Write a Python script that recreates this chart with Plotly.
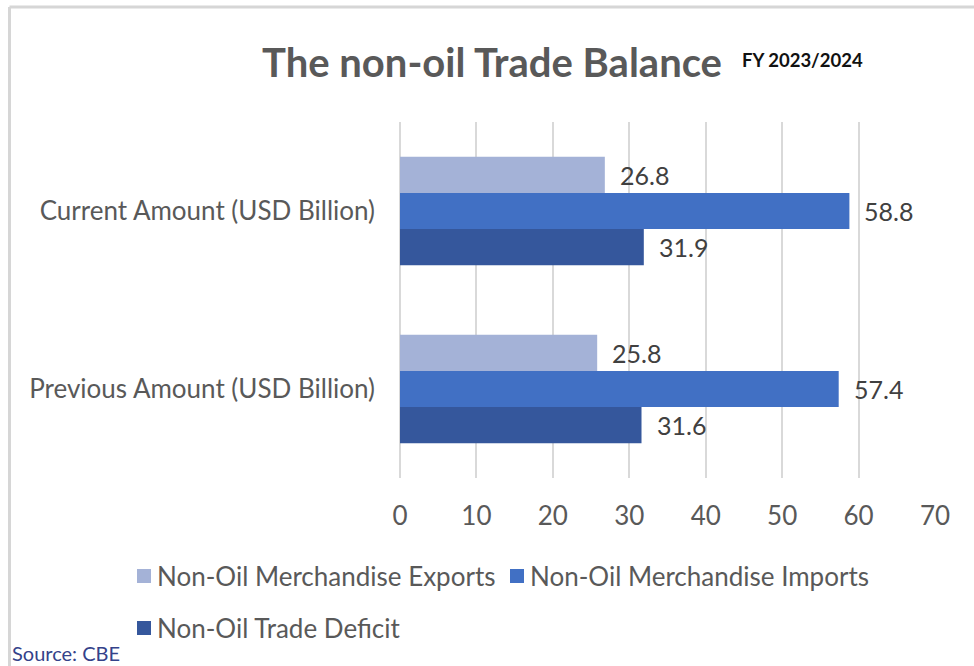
import plotly.graph_objects as go

# Data (USD billion)
categories = ["Current Amount (USD Billion)", "Previous Amount (USD Billion)"]
series_names = [
    "Non-Oil Merchandise Exports",
    "Non-Oil Merchandise Imports",
    "Non-Oil Trade Deficit",
]
exports = [26.8, 25.8]
imports = [58.8, 57.4]
deficit = [31.9, 31.6]
x_ticks = [0, 10, 20, 30, 40, 50, 60, 70]

colors = ["#A4B2D7", "#4170C4", "#35579C"]
values = [exports, imports, deficit]

FONT = "Lato, 'Open Sans', sans-serif"
TXT = "#595959"

fig = go.Figure()
for name, vals, col in zip(series_names, values, colors):
    fig.add_trace(go.Bar(
        y=categories, x=vals, name=name, orientation="h",
        marker=dict(color=col, line=dict(width=0)),
        showlegend=False,
    ))

# value labels just right of each bar end
n = len(series_names)
bar_w = 0.61 / n
for i, vals in enumerate(values):
    for j, v in enumerate(vals):
        fig.add_annotation(
            x=v, y=j - 0.305 + bar_w * (i + 0.5), xref="x", yref="y",
            text=f"{v:.1f}", showarrow=False, xanchor="left", xshift=13,
            font=dict(family=FONT, size=25, color="#404040"),
        )

fig.update_layout(
    width=974, height=666,
    margin=dict(l=400, r=39, t=122, b=188),
    paper_bgcolor="white", plot_bgcolor="white",
    barmode="group", bargap=0.39, bargroupgap=0,
    font=dict(family=FONT, color=TXT),
    xaxis=dict(
        range=[0, 70], tickvals=x_ticks, showgrid=True,
        gridcolor="#D9D9D9", gridwidth=1.5,
        zeroline=True, zerolinecolor="#D9D9D9", zerolinewidth=1.5,
        showline=False, ticks="", ticklabelstandoff=20,
        tickfont=dict(family=FONT, size=26, color=TXT),
    ),
    yaxis=dict(
        autorange="reversed", showgrid=False, showline=False,
        ticks="", ticklabelstandoff=24,
        tickfont=dict(family=FONT, size=26, color=TXT),
    ),
)

# titles
fig.add_annotation(
    x=(492 - 400) / 535, y=(478 - 62) / 356, xref="paper", yref="paper",
    text="<b>The non-oil Trade Balance</b>", showarrow=False,
    xanchor="center", yanchor="middle",
    font=dict(family=FONT, size=40, color=TXT),
)
fig.add_annotation(
    x=(740 - 400) / 535, y=(478 - 60) / 356, xref="paper", yref="paper",
    text="<b>FY 2023/2024</b>", showarrow=False,
    xanchor="left", yanchor="middle",
    font=dict(family=FONT, size=18.5, color="#111111"),
)

# legend drawn as swatches + labels
legend_pos = [(137, 576), (510, 576), (137, 628)]
for (px, py), name, col in zip(legend_pos, series_names, colors):
    x0 = (px - 400) / 535
    x1 = (px + 14 - 400) / 535
    y0 = (478 - (py + 7)) / 356
    y1 = (478 - (py - 7)) / 356
    fig.add_shape(type="rect", xref="paper", yref="paper",
                  x0=x0, x1=x1, y0=y0, y1=y1,
                  fillcolor=col, line=dict(width=0))
    fig.add_annotation(
        x=(px + 18 - 400) / 535, y=(478 - py) / 356,
        xref="paper", yref="paper", text=name, showarrow=False,
        xanchor="left", yanchor="middle",
        font=dict(family=FONT, size=26, color=TXT),
    )

# source note
fig.add_annotation(
    x=(10 - 400) / 535, y=(478 - 653) / 356, xref="paper", yref="paper",
    text="Source: CBE", showarrow=False, xanchor="left", yanchor="middle",
    font=dict(family=FONT, size=20, color="#34428A"),
)

# frame lines along top and left edges
fig.add_shape(type="line", xref="paper", yref="paper",
              x0=(9.5 - 400) / 535, x1=(974 - 400) / 535,
              y0=(478 - 7) / 356, y1=(478 - 7) / 356,
              line=dict(color="#D6D6D6", width=3))
fig.add_shape(type="line", xref="paper", yref="paper",
              x0=(9.5 - 400) / 535, x1=(9.5 - 400) / 535,
              y0=(478 - 7) / 356, y1=(478 - 666) / 356,
              line=dict(color="#D6D6D6", width=3))

fig.write_html("out.html")
